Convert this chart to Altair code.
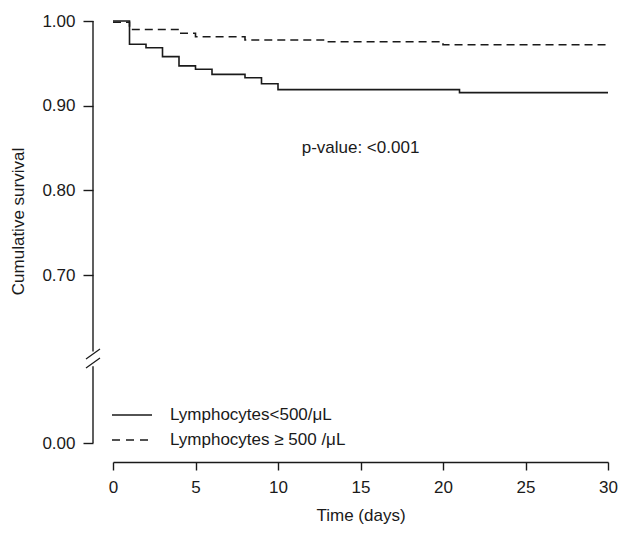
import altair as alt
import pandas as pd

# ---- data ----
solid_time = [0, 1, 2, 3, 4, 5, 6, 8, 9, 10, 21, 30]
solid_surv = [1.0, 0.9725, 0.9685, 0.958, 0.947, 0.943, 0.937, 0.933, 0.926, 0.919, 0.9155, 0.9155]
dashed_time = [0, 1, 4, 5, 8, 13, 20, 30]
dashed_surv = [0.9985, 0.990, 0.9855, 0.9815, 0.9776, 0.9756, 0.972, 0.972]

series_labels = ["Lymphocytes<500/\u03bcL", "Lymphocytes \u2265 500 /\u03bcL"]
x_ticks = [0, 5, 10, 15, 20, 25, 30]
y_ticks = [0.0, 0.7, 0.8, 0.9, 1.0]
annot_x = [15]
annot_y = [0.85]
annot_text = ["p-value: <0.001"]

FONT = "Liberation Sans"
INK = "#1a1a1a"
W, H = 495, 422

df = pd.concat([
    pd.DataFrame({"time": solid_time, "surv": solid_surv, "group": series_labels[0]}),
    pd.DataFrame({"time": dashed_time, "surv": dashed_surv, "group": series_labels[1]}),
])

xscale = alt.Scale(domain=[0, 30], nice=False, zero=False)
yscale = alt.Scale(domain=[0, 0.6, 1.0], range=[H, 339, 0], nice=False, zero=False)

x_enc = alt.X("time:Q", scale=xscale, title="Time (days)",
              axis=alt.Axis(values=x_ticks, offset=19, tickSize=8, labelPadding=9,
                            grid=False, domainColor=INK, tickColor=INK,
                            domainWidth=1.4, tickWidth=1.4, labelFontSize=17,
                            titleFontSize=17, titleFontWeight="normal", titlePadding=12,
                            labelColor=INK, titleColor=INK, labelFont=FONT, titleFont=FONT,
                            labelFlush=False))
y_enc = alt.Y("surv:Q", scale=yscale, title="Cumulative survival",
              axis=alt.Axis(values=y_ticks, format=".2f", offset=20, tickSize=10,
                            labelPadding=8, grid=False, domain=False, tickColor=INK,
                            tickWidth=1.4, labelFontSize=17, titleFontSize=17,
                            titleFontWeight="normal", titlePadding=14, titleY=200,
                            labelColor=INK, titleColor=INK, labelFont=FONT, titleFont=FONT))

curves = alt.Chart(df).mark_line(interpolate="step-after", strokeWidth=1.6, color=INK).encode(
    x=x_enc,
    y=y_enc,
    strokeDash=alt.StrokeDash("group:N", scale=alt.Scale(domain=series_labels, range=[[1, 0], [8, 5]]),
                              legend=None),
)

# y axis line drawn in two pieces with a break
seg_df = pd.DataFrame({"y1": [1.0, 0.555], "y2": [0.61, 0.0]})
axis_segs = alt.Chart(seg_df).mark_rule(color=INK, strokeWidth=1.4).encode(
    x=alt.value(-20), y=alt.Y("y1:Q", scale=yscale), y2="y2:Q")
slash1 = alt.Chart(seg_df.head(1)).mark_rule(color=INK, strokeWidth=1.2).encode(
    x=alt.value(-27), x2=alt.value(-13), y=alt.value(338), y2=alt.value(328))
slash2 = alt.Chart(seg_df.head(1)).mark_rule(color=INK, strokeWidth=1.2).encode(
    x=alt.value(-27), x2=alt.value(-13), y=alt.value(347), y2=alt.value(337))

annot = alt.Chart(pd.DataFrame({"x": annot_x, "y": annot_y, "t": annot_text})).mark_text(
    font=FONT, fontSize=17, color=INK, align="center", baseline="middle").encode(
    x=alt.X("x:Q", scale=xscale), y=alt.Y("y:Q", scale=yscale), text="t:N")

leg_df = pd.DataFrame({"label": series_labels})
leg_line1 = alt.Chart(leg_df.head(1)).mark_rule(color=INK, strokeWidth=1.4).encode(
    x=alt.value(-1), x2=alt.value(39), y=alt.value(394))
leg_line2 = alt.Chart(leg_df.tail(1)).mark_rule(color=INK, strokeWidth=1.4, strokeDash=[8, 6]).encode(
    x=alt.value(-1), x2=alt.value(39), y=alt.value(419))
leg_txt1 = alt.Chart(leg_df.head(1)).mark_text(font=FONT, fontSize=17, color=INK, align="left",
                                                baseline="middle").encode(
    x=alt.value(57), y=alt.value(394), text="label:N")
leg_txt2 = alt.Chart(leg_df.tail(1)).mark_text(font=FONT, fontSize=17, color=INK, align="left",
                                                baseline="middle").encode(
    x=alt.value(57), y=alt.value(419), text="label:N")

chart = alt.layer(curves, axis_segs, slash1, slash2, annot,
                  leg_line1, leg_line2, leg_txt1, leg_txt2).properties(
    width=W, height=H,
    autosize=alt.AutoSizeParams(type="none"),
    padding={"left": 105, "top": 13, "right": 10, "bottom": 82},
).configure(background="white").configure_view(stroke=None, strokeWidth=0)

chart.save("out.html", embed_options={"renderer": "svg", "actions": False})
